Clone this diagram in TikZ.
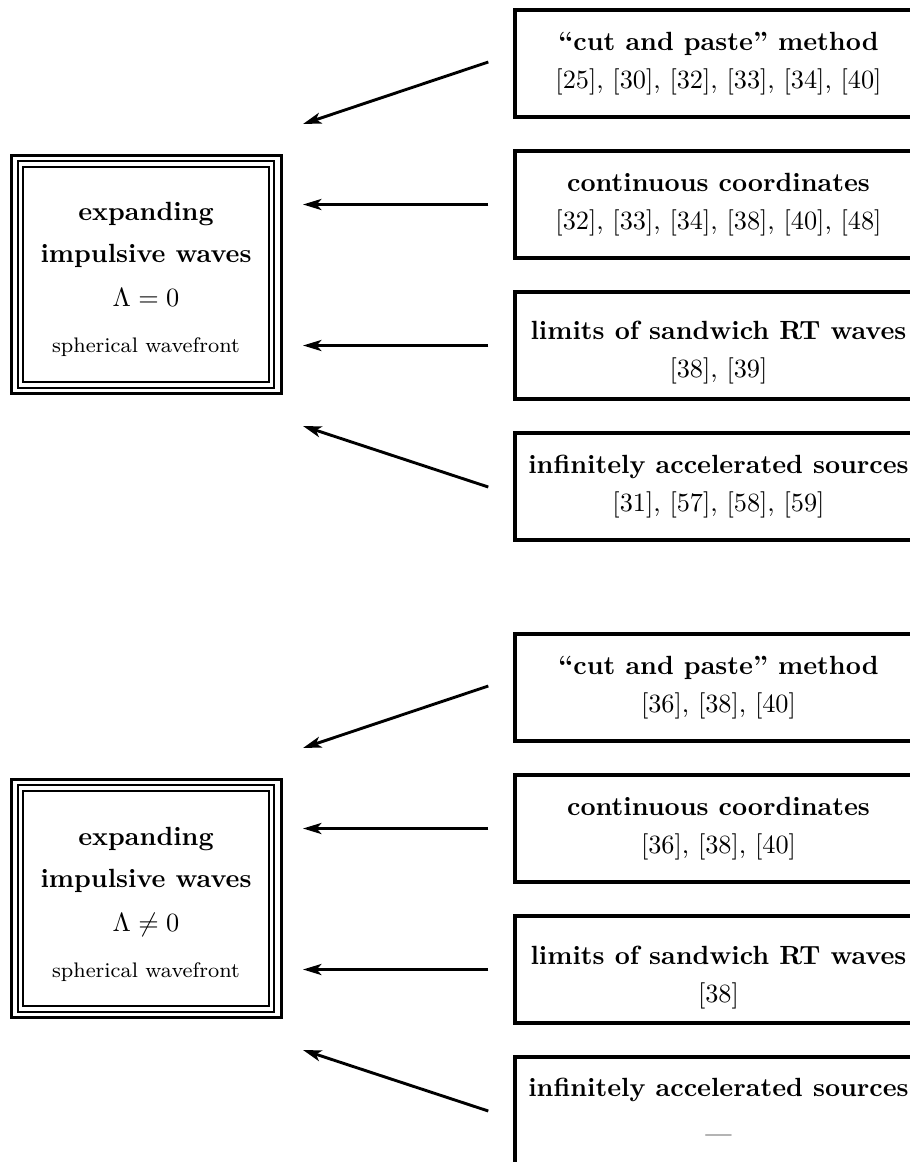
\documentclass[tikz,border=0pt]{standalone}
\usetikzlibrary{arrows.meta}
\newcommand{\pxu}{0.38pt}
\begin{document}
\begin{tikzpicture}[x=\pxu, y=-\pxu,
  refbox/.style={draw, line width=1.3pt, rectangle, minimum width=154.66pt,
    minimum height=40.66pt, align=center, inner sep=0pt},
  mainbox/.style={draw, line width=0.76pt, rectangle, minimum width=93.48pt,
    minimum height=81.89pt, align=center, inner sep=0pt, font=\bfseries},
  midframe/.style={line width=0.76pt},
  outframe/.style={line width=1.33pt},
  arr/.style={line width=1.1pt, -{Stealth[length=7pt, width=4.2pt, inset=1.8pt]}}
]
\useasboundingbox (0,0) rectangle (910,1162);
\clip (0,0) rectangle (910,1162);

% ---------- upper group ----------
\node[mainbox] (lb1) at (146,274.25) {\rule{0pt}{11pt}expanding\\[4pt] impulsive waves\\[4.7pt] $\Lambda=0$\\[5.5pt] {\normalfont\footnotesize spherical wavefront}};
\draw[midframe] ([shift={(-4,-4.5)}]lb1.north west) rectangle ([shift={(4,4.5)}]lb1.south east);
\draw[outframe] ([shift={(-10.5,-10)}]lb1.north west) rectangle ([shift={(11.5,10.5)}]lb1.south east);

\node[refbox] (ra1) at (718.5,63.5) {{\bfseries “cut and paste” method}\\[2.4pt]{}[25], [30], [32], [33], [34], [40]};
\node[refbox] (ra2) at (718.5,204.5) {{\bfseries continuous coordinates}\\[2.4pt]{}[32], [33], [34], [38], [40], [48]};
\node[refbox] (ra3) at (718.5,345.5) {\rule{0pt}{12.2pt}{\bfseries limits of sandwich RT waves}\\[2.4pt]{}[38], [39]};
\node[refbox] (ra4) at (718.5,486.5) {{\bfseries infinitely accelerated sources}\\[2.4pt]{}[31], [57], [58], [59]};

\coordinate (ta1) at (303,124);
\coordinate (ta2) at (303,204.5);
\coordinate (ta3) at (303,345.5);
\coordinate (ta4) at (303,426);
\draw[arr] ([shift={(-25,-1.5)}]ra1.west) -- (ta1);
\draw[arr] ([shift={(-25,0)}]ra2.west) -- (ta2);
\draw[arr] ([shift={(-25,0)}]ra3.west) -- (ta3);
\draw[arr] ([shift={(-25,0.5)}]ra4.west) -- (ta4);

% ---------- lower group ----------
\node[mainbox] (lb2) at (146,898.25) {\rule{0pt}{11.4pt}expanding\\[4pt] impulsive waves\\[4.7pt] $\Lambda\neq0$\\[5.5pt] {\normalfont\footnotesize spherical wavefront}};
\draw[midframe] ([shift={(-4,-4.5)}]lb2.north west) rectangle ([shift={(4,4.5)}]lb2.south east);
\draw[outframe] ([shift={(-10.5,-10)}]lb2.north west) rectangle ([shift={(11.5,10.5)}]lb2.south east);

\node[refbox] (rb1) at (718.5,687.5) {{\bfseries “cut and paste” method}\\[2.4pt]{}[36], [38], [40]};
\node[refbox] (rb2) at (718.5,828.5) {{\bfseries continuous coordinates}\\[2.4pt]{}[36], [38], [40]};
\node[refbox] (rb3) at (718.5,969.5) {\rule{0pt}{13pt}{\bfseries limits of sandwich RT waves}\\[2.4pt]{}[38]};
\node[refbox] (rb4) at (718.5,1110.5) {{\bfseries infinitely accelerated sources}\\[5.4pt]{}—};

\coordinate (tb1) at (303,748);
\coordinate (tb2) at (303,828.5);
\coordinate (tb3) at (303,969.5);
\coordinate (tb4) at (303,1050);
\draw[arr] ([shift={(-25,-1.5)}]rb1.west) -- (tb1);
\draw[arr] ([shift={(-25,0)}]rb2.west) -- (tb2);
\draw[arr] ([shift={(-25,0)}]rb3.west) -- (tb3);
\draw[arr] ([shift={(-25,0.5)}]rb4.west) -- (tb4);
\end{tikzpicture}
\end{document}
